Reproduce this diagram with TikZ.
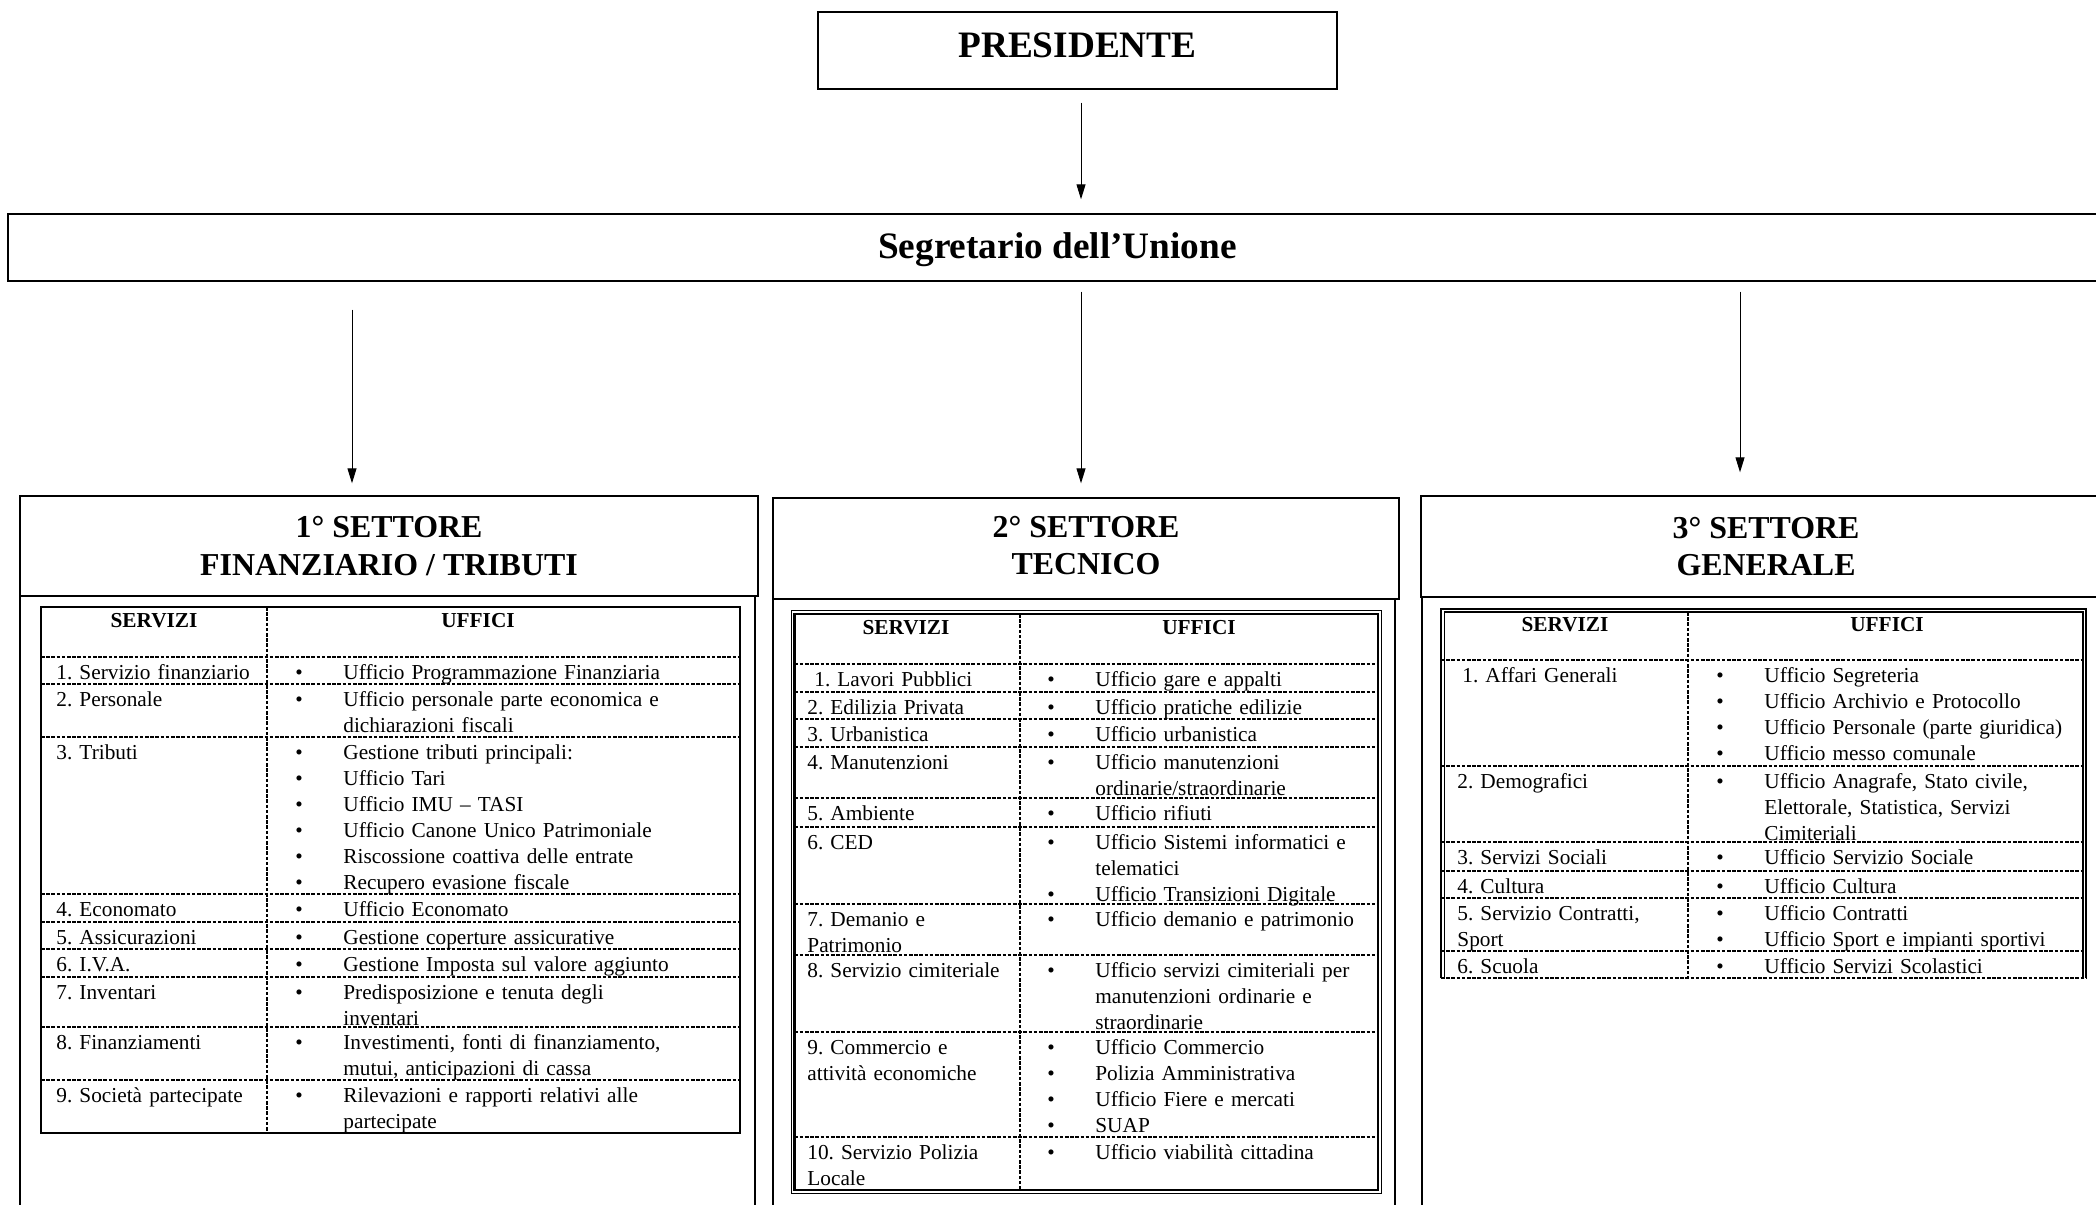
\documentclass[tikz,border=0pt]{standalone}
\usepackage{fontspec}
\setmainfont{Liberation Serif}
\usepackage{tikz}
\usetikzlibrary{arrows.meta}

\newcommand{\uff}[1]{\begingroup\let\\\newline\noindent\hangindent=24pt\makebox[24pt][l]{\textbullet}#1\par\endgroup}

\begin{document}
\frenchspacing
\begin{tikzpicture}[x=0.5pt,y=-0.5pt]

        \tikzstyle{topbox}=[draw,line width=0.7pt,inner sep=0pt,font=\fontsize{18.65}{22}\selectfont\bfseries]
        \tikzstyle{secbox}=[draw,line width=0.7pt,inner sep=0pt,align=center,font=\fontsize{15.95}{18.7}\selectfont\bfseries]
        \tikzstyle{colhead}=[anchor=base,inner sep=0pt,font=\fontsize{10.65}{13}\selectfont\bfseries]
        \tikzstyle{srv}=[anchor=base west,inner sep=0pt,text width=110pt,align=left,font=\fontsize{10.65}{13}\selectfont]
        \tikzstyle{uffcell}=[anchor=base west,inner sep=0pt,text width=200pt,font=\fontsize{10.65}{13}\selectfont]
        \tikzstyle{rowline}=[line width=0.8pt,dash pattern=on 1.8pt off 0.8pt]
        \tikzstyle{wall}=[line width=0.7pt]
        \tikzstyle{arr}=[line width=0.5pt,-{Triangle[length=7.5pt,width=4.5pt]}]

        \path[use as bounding box] (0,0) rectangle (2096,1204);
        \clip (0,0) rectangle (2096,1204);

        %% Top of the chart
        \node[topbox,minimum width=259.5pt,minimum height=38.5pt,text depth=5pt] (pres) at (1077.5,50.5) {PRESIDENTE};
        \node[topbox,minimum width=1049.5pt,minimum height=33.5pt,text depth=1.5pt] (seg) at (1057.5,247.5) {Segretario dell’Unione};

        \node[secbox,minimum width=369pt,minimum height=50pt] (s1) at (389,546) {1° SETTORE\\FINANZIARIO / TRIBUTI};
        \node[secbox,minimum width=313pt,minimum height=50.5pt,text depth=3pt] (s2) at (1086,548.5) {2° SETTORE\\TECNICO};
        \node[secbox,minimum width=345pt,minimum height=50.5pt] (s3) at (1766,546.5) {3° SETTORE\\GENERALE};

        % open boxes below the headers
        \draw[wall] (20,596) -- (20,1210) (755,596) -- (755,1210);
        \draw[wall] (773,599) -- (773,1210) (1395,599) -- (1395,1210);
        \draw[wall] (1422,597) -- (1422,1210);

        %% Arrows
        \coordinate (c1) at (352,0);
        \coordinate (c2) at (1081,0);
        \coordinate (c3) at (1740,0);
        \draw[arr,shorten <=6.5pt,shorten >=7pt] (pres.south -| c2) -- (seg.north -| c2);
        \draw[arr,shorten <=14pt,shorten >=6pt] (seg.south -| c1) -- (s1.north -| c1);
        \draw[arr,shorten <=5pt,shorten >=7pt] (seg.south -| c2) -- (s2.north -| c2);
        \draw[arr,shorten <=5pt,shorten >=11.5pt] (seg.south -| c3) -- (s3.north -| c3);

        %% Table of the 1° settore
        \begin{scope}
            \draw[line width=1pt] (41,607) rectangle (740,1133);
            \draw[rowline] (267,607) -- (267,1133);
            \foreach \y in {657,684,737,894,922,949,977,1027,1080}
                \draw[rowline] (41,\y) -- (740,\y);
            \node[colhead] (t1hs) at (154,627) {SERVIZI};
            \node[colhead] (t1hu) at (478,627) {UFFICI};

            \node[srv] (t1s1) at (56,679) {1. Servizio finanziario};
            \node[srv] (t1s2) at (56,706) {2. Personale};
            \node[srv] (t1s3) at (56,759) {3. Tributi};
            \node[srv] (t1s4) at (56,916) {4. Economato};
            \node[srv] (t1s5) at (56,944) {5. Assicurazioni};
            \node[srv] (t1s6) at (56,971) {6. I.V.A.};
            \node[srv] (t1s7) at (56,999) {7. Inventari};
            \node[srv] (t1s8) at (56,1049) {8. Finanziamenti};
            \node[srv] (t1s9) at (56,1102) {9. Società partecipate};

            \node[uffcell] (t1u1) at (295,679) {\uff{Ufficio Programmazione Finanziaria}};
            \node[uffcell] (t1u2) at (295,706) {\uff{Ufficio personale parte economica e\\dichiarazioni fiscali}};
            \node[uffcell] (t1u3) at (295,759) {\uff{Gestione tributi principali:}\uff{Ufficio Tari}\uff{Ufficio IMU – TASI}\uff{Ufficio Canone Unico Patrimoniale}\uff{Riscossione coattiva delle entrate}\uff{Recupero evasione fiscale}};
            \node[uffcell] (t1u4) at (295,916) {\uff{Ufficio Economato}};
            \node[uffcell] (t1u5) at (295,944) {\uff{Gestione coperture assicurative}};
            \node[uffcell] (t1u6) at (295,971) {\uff{Gestione Imposta sul valore aggiunto}};
            \node[uffcell] (t1u7) at (295,999) {\uff{Predisposizione e tenuta degli\\inventari}};
            \node[uffcell] (t1u8) at (295,1049) {\uff{Investimenti, fonti di finanziamento,\\mutui, anticipazioni di cassa}};
            \node[uffcell] (t1u9) at (295,1102) {\uff{Rilevazioni e rapporti relativi alle\\partecipate}};
        \end{scope}

        %% Table of the 2° settore
        \begin{scope}
            \draw[line width=0.5pt] (791.5,610.5) rectangle (1381,1193);
            \draw[line width=1.2pt] (794.5,614) rectangle (1378,1190);
            \draw[rowline] (1020,614) -- (1020,1190);
            \foreach \y in {664,692,719,747,798,827,904,955,1032,1137}
                \draw[rowline] (794.5,\y) -- (1378,\y);
            \node[colhead] (t2hs) at (906,634) {SERVIZI};
            \node[colhead] (t2hu) at (1199,634) {UFFICI};

            \node[srv] (t2s1) at (814,686) {1. Lavori Pubblici};
            \node[srv] (t2s2) at (807,714) {2. Edilizia Privata};
            \node[srv] (t2s3) at (807,741) {3. Urbanistica};
            \node[srv] (t2s4) at (807,769) {4. Manutenzioni};
            \node[srv] (t2s5) at (807,820) {5. Ambiente};
            \node[srv] (t2s6) at (807,849) {6. CED};
            \node[srv] (t2s7) at (807,926) {7. Demanio e\\Patrimonio};
            \node[srv] (t2s8) at (807,977) {8. Servizio cimiteriale};
            \node[srv] (t2s9) at (807,1054) {9. Commercio e\\attività economiche};
            \node[srv] (t2s10) at (807,1159) {10. Servizio Polizia\\Locale};

            \node[uffcell] (t2u1) at (1047,686) {\uff{Ufficio gare e appalti}};
            \node[uffcell] (t2u2) at (1047,714) {\uff{Ufficio pratiche edilizie}};
            \node[uffcell] (t2u3) at (1047,741) {\uff{Ufficio urbanistica}};
            \node[uffcell] (t2u4) at (1047,769) {\uff{Ufficio manutenzioni\\ordinarie/straordinarie}};
            \node[uffcell] (t2u5) at (1047,820) {\uff{Ufficio rifiuti}};
            \node[uffcell] (t2u6) at (1047,849) {\uff{Ufficio Sistemi informatici e\\telematici}\uff{Ufficio Transizioni Digitale}};
            \node[uffcell] (t2u7) at (1047,926) {\uff{Ufficio demanio e patrimonio}};
            \node[uffcell] (t2u8) at (1047,977) {\uff{Ufficio servizi cimiteriali per\\manutenzioni ordinarie e\\straordinarie}};
            \node[uffcell] (t2u9) at (1047,1054) {\uff{Ufficio Commercio}\uff{Polizia Amministrativa}\uff{Ufficio Fiere e mercati}\uff{SUAP}};
            \node[uffcell] (t2u10) at (1047,1159) {\uff{Ufficio viabilità cittadina}};
        \end{scope}

        %% Table of the 3° settore
        \begin{scope}
            \draw[line width=0.8pt,double,double distance=0.9pt] (1442.8,978) -- (1442.8,610.5) -- (2084.5,610.5) -- (2084.5,978);
            \draw[rowline] (1688,612) -- (1688,978);
            \foreach \y in {660,766,842,871,898,951,978}
                \draw[rowline] (1441,\y) -- (2086,\y);
            \node[colhead] (t3hs) at (1565,631) {SERVIZI};
            \node[colhead] (t3hu) at (1887,631) {UFFICI};

            \node[srv] (t3s1) at (1462,682.5) {1. Affari Generali};
            \node[srv] (t3s2) at (1457,788.5) {2. Demografici};
            \node[srv] (t3s3) at (1457,864.5) {3. Servizi Sociali};
            \node[srv] (t3s4) at (1457,893.5) {4. Cultura};
            \node[srv] (t3s5) at (1457,920.5) {5. Servizio Contratti,\\Sport};
            \node[srv] (t3s6) at (1457,973.5) {6. Scuola};

            \node[uffcell] (t3u1) at (1716,682.5) {\uff{Ufficio Segreteria}\uff{Ufficio Archivio e Protocollo}\uff{Ufficio Personale (parte giuridica)}\uff{Ufficio messo comunale}};
            \node[uffcell] (t3u2) at (1716,788.5) {\uff{Ufficio Anagrafe, Stato civile,\\Elettorale, Statistica, Servizi\\Cimiteriali}};
            \node[uffcell] (t3u3) at (1716,864.5) {\uff{Ufficio Servizio Sociale}};
            \node[uffcell] (t3u4) at (1716,893.5) {\uff{Ufficio Cultura}};
            \node[uffcell] (t3u5) at (1716,920.5) {\uff{Ufficio Contratti}\uff{Ufficio Sport e impianti sportivi}};
            \node[uffcell] (t3u6) at (1716,973.5) {\uff{Ufficio Servizi Scolastici}};
        \end{scope}

\end{tikzpicture}
\end{document}
